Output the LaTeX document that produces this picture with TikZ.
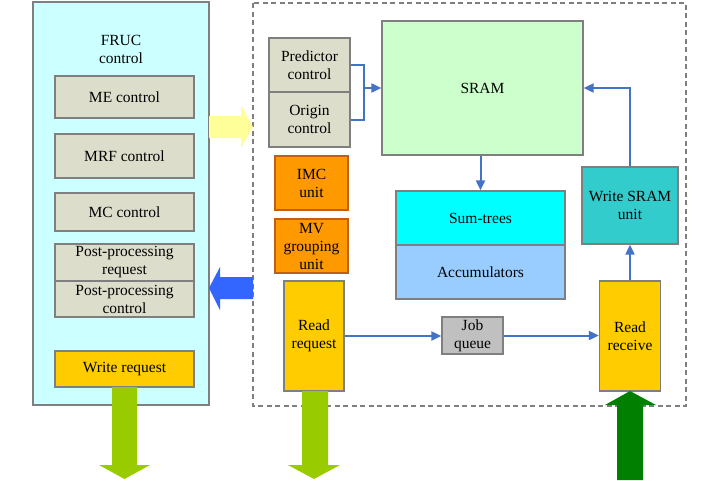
\documentclass[tikz,border=0pt]{standalone}
\usepackage{fontspec}
\setmainfont{Liberation Serif}
\usetikzlibrary{arrows.meta}
\definecolor{frucfill}{HTML}{CCFFFF}
\definecolor{ctlfill}{HTML}{DDDDCC}
\definecolor{sramfill}{HTML}{CCFFCC}
\definecolor{orangefill}{HTML}{FF9900}
\definecolor{orangeline}{HTML}{C06010}
\definecolor{yellowfill}{HTML}{FFCC00}
\definecolor{sumfill}{HTML}{00FFFF}
\definecolor{accfill}{HTML}{99CCFF}
\definecolor{wsfill}{HTML}{33CCCC}
\definecolor{jobfill}{HTML}{C0C0C0}
\definecolor{conn}{HTML}{4472C4}
\definecolor{boxline}{HTML}{7F7F7F}
\definecolor{fatyellow}{HTML}{FFFF99}
\definecolor{fatblue}{HTML}{3366FF}
\definecolor{fatgreen}{HTML}{99CC00}
\definecolor{darkgreen}{HTML}{007F00}
\begin{document}
\begin{tikzpicture}[x=1pt,y=-1pt,
  box/.style={draw=boxline,line width=1.3pt,inner sep=0pt,align=center,
    font=\fontsize{15.5}{18}\selectfont},
  ctl/.style={box,fill=ctlfill,minimum width=139pt},
  conn/.style={draw=conn,line width=2pt,-{Triangle[length=10pt,width=9pt]}},
]
\useasboundingbox (0,0) rectangle (720,480);
\fill[white] (0,0) rectangle (720,480);
% FRUC container
\node[box,fill=frucfill,minimum width=176pt,minimum height=403pt] (fruc) at (121,203.5) {};
\node[font=\fontsize{15.5}{18}\selectfont,align=center,inner sep=0pt] (fructxt) at (121,49) {FRUC\\control};
\node[ctl,minimum height=42pt] (me) at (124.5,97) {ME control};
\node[ctl,minimum height=44pt] (mrf) at (124.5,156) {MRF control};
\node[ctl,minimum height=38pt] (mc) at (124.5,212) {MC control};
\node[ctl,minimum height=37pt] (ppr) at (124.5,262.5) {Post-processing\\request};
\node[ctl,minimum height=36pt] (ppc) at (124.5,299) {Post-processing\\control};
\node[box,fill=yellowfill,minimum width=139pt,minimum height=36pt] (wr) at (124.5,369) {Write request};
% dashed container
\draw[boxline,line width=2.6pt,dash pattern=on 5pt off 3.5pt] (253,3) rectangle (686,406);
% inner blocks
\node[ctl,minimum width=81pt,minimum height=54pt] (pred) at (309.5,65) {Predictor\\control};
\node[ctl,minimum width=81pt,minimum height=55pt] (orig) at (309.5,119.5) {Origin\\control};
\node[box,fill=sramfill,minimum width=201pt,minimum height=134pt] (sram) at (482.5,88) {SRAM};
\node[box,draw=orangeline,fill=orangefill,minimum width=73pt,minimum height=54pt] (imc) at (311.5,183) {IMC\\unit};
\node[box,draw=orangeline,fill=orangefill,minimum width=73pt,minimum height=54pt] (mv) at (311.5,246) {MV\\grouping\\unit};
\node[box,fill=yellowfill,minimum width=60pt,minimum height=110pt] (rreq) at (314,336) {Read\\request};
\node[box,fill=sumfill,minimum width=169pt,minimum height=54pt] (sum) at (480.5,218) {Sum-trees};
\node[box,fill=accfill,minimum width=169pt,minimum height=54pt] (acc) at (480.5,272) {Accumulators};
\node[box,fill=wsfill,minimum width=96pt,minimum height=77pt] (ws) at (630,205.5) {Write SRAM\\unit};
\node[box,fill=yellowfill,minimum width=61pt,minimum height=110pt] (rrec) at (630,336) {Read\\receive};
\node[box,fill=jobfill,minimum width=61pt,minimum height=37pt] (job) at (472.5,335.5) {Job\\queue};
% connectors
\coordinate (join) at (364,88);
\draw[conn,-] (pred.east) -| (join);
\draw[conn,-] (orig.east) -| (join);
\draw[conn] (join) -- (sram.west |- join);
\draw[conn] (sram.south -| sum.north) -- (sum.north);
\draw[conn] (ws.north) |- (sram.east);
\draw[conn] (rrec.north) -- (ws.south);
\draw[conn] (rreq.east) -- (job.west |- rreq.east);
\draw[conn] (job.east) -- (rrec.west |- job.east);
% fat arrows
\fill[fatyellow] (209,116) -- (241,116) -- (241,105) -- (253,127) -- (241,148) -- (241,138) -- (209,138) -- cycle;
\fill[fatblue] (253,277) -- (220,277) -- (220,267) -- (209,288) -- (220,310) -- (220,299) -- (253,299) -- cycle;
\fill[fatgreen] (112,387) -- (137,387) -- (137,465) -- (150,465) -- (124.5,479) -- (99,465) -- (112,465) -- cycle;
\fill[fatgreen] (302,391) -- (328,391) -- (328,465) -- (340,465) -- (314,479) -- (288,465) -- (302,465) -- cycle;
\fill[darkgreen] (617,480) -- (643,480) -- (643,405) -- (656,405) -- (630,391) -- (605,405) -- (617,405) -- cycle;
\end{tikzpicture}
\end{document}
